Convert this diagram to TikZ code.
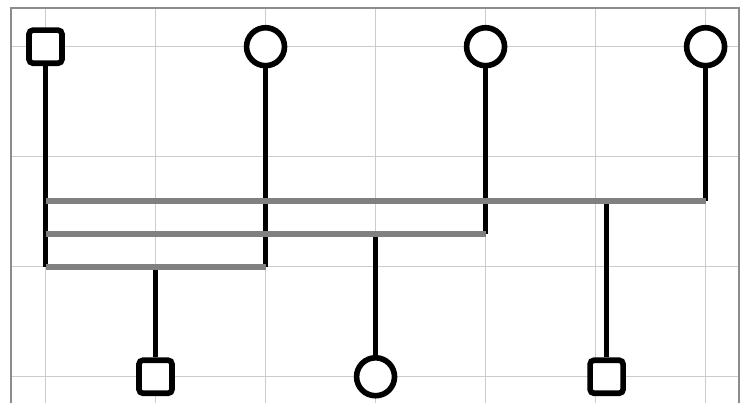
\documentclass[tikz,border=0pt]{standalone}
\usepackage{xcolor}
\usepackage{tikz}
\definecolor{PedBar}{HTML}{808080}
\definecolor{PedGrid}{HTML}{CCCCCC}
\definecolor{PedFrame}{HTML}{8C8C8C}

\begin{document}
\begin{tikzpicture}[
  male/.style={draw=black, fill=white, line width=1.45pt, rectangle,
               rounded corners=1pt, minimum size=0.30cm, inner sep=0pt},
  female/.style={draw=black, fill=white, line width=1.45pt, circle,
                 minimum size=0.345cm, inner sep=0pt},
  stem/.style={line width=1.45pt, color=black},
  bar/.style={line width=1.55pt, color=PedBar},
  gridline/.style={line width=0.3pt, color=PedGrid}
]
  \useasboundingbox (-0.4136,0.4245) rectangle (6.358,-3.230);
  \draw[gridline] (-0.314,-3.35) grid (6.30,0.35);
  \draw[line width=0.5pt, color=PedFrame] (-0.314,0.35) rectangle (6.30,-3.35);

  \node[male]   (m1) at (0,0)    {};
  \node[female] (f1) at (2,0)    {};
  \node[female] (f2) at (4,0)    {};
  \node[female] (f3) at (6,0)    {};
  \node[male]   (c1) at (1,-3)   {};
  \node[female] (c2) at (3,-3)   {};
  \node[male]   (c3) at (5.1,-3) {};

  \coordinate (u1) at (0,-1.4);
  \coordinate (u2) at (0,-1.7);
  \coordinate (u3) at (0,-2);

  \draw[stem] (m1) -- (m1 |- u3);
  \draw[stem] (f1) -- (f1 |- u3);
  \draw[stem] (f2) -- (f2 |- u2);
  \draw[stem] (f3) -- (f3 |- u1);
  \draw[stem] (c1) -- (c1 |- u3);
  \draw[stem] (c2) -- (c2 |- u2);
  \draw[stem] (c3) -- (c3 |- u1);

  \draw[bar] (m1 |- u1) -- (f3 |- u1);
  \draw[bar] (m1 |- u2) -- (f2 |- u2);
  \draw[bar] (m1 |- u3) -- (f1 |- u3);
\end{tikzpicture}
\end{document}
